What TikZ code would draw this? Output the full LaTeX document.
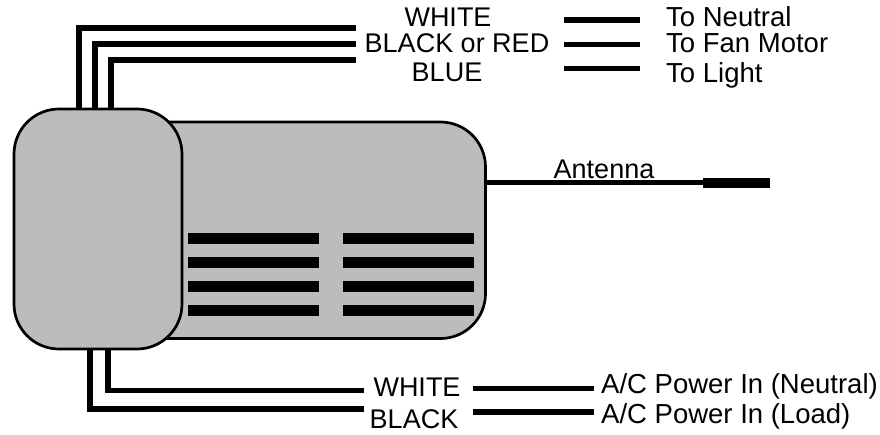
\documentclass[tikz,border=0pt]{standalone}
\usepackage{fontspec}
\setmainfont{Liberation Sans}
\definecolor{housingfill}{HTML}{BCBCBC}
\begin{document}
\begin{tikzpicture}[x=1pt,y=-1pt,
  wire/.style={line width=5.5pt,black},
  bar/.style={line width=10.8pt,black},
  housing/.style={draw=black,line width=2.7pt,fill=housingfill,rounded corners=45pt,inner sep=0pt,outer sep=0pt,anchor=north west},
  lab/.style={font=\fontsize{27}{27}\selectfont,inner sep=0pt,text=black,anchor=base},
  rlab/.style={font=\fontsize{27.5}{27.5}\selectfont,inner sep=0pt,text=black,anchor=base west}]
\useasboundingbox (0,0) rectangle (880,434);
\node[housing,minimum width=385.5pt,minimum height=216.5pt] (body) at (100,122) {};
\node[housing,minimum width=168pt,minimum height=240pt] (unit) at (14,109) {};
% top wires
\coordinate (t1a) at (79,109); \coordinate (t1b) at (79,28); \coordinate (t1c) at (356,28);
\coordinate (t2a) at (95,109); \coordinate (t2b) at (95,44); \coordinate (t2c) at (356,44);
\coordinate (t3a) at (111,109); \coordinate (t3b) at (111,60); \coordinate (t3c) at (356,60);
\draw[wire,line join=miter] (t1a) -- (t1b) -- (t1c);
\draw[wire,line join=miter] (t2a) -- (t2b) -- (t2c);
\draw[wire,line join=miter] (t3a) -- (t3b) -- (t3c);
% top labels
\node[lab] (lw) at (448,26) {WHITE};
\node[lab] (lb) at (457,52) {BLACK or RED};
\node[lab] (lu) at (447,81.5) {BLUE};
\coordinate (r1a) at (564,20); \coordinate (r1b) at (640,20);
\coordinate (r2a) at (564,44.3); \coordinate (r2b) at (640,44.3);
\coordinate (r3a) at (564,68.3); \coordinate (r3b) at (640,68.3);
\draw[wire] (r1a) -- (r1b);
\draw[wire] (r2a) -- (r2b);
\draw[wire] (r3a) -- (r3b);
\node[rlab] (tn) at (666,26) {To Neutral};
\node[rlab] (tf) at (666,52) {To Fan Motor};
\node[rlab] (tl) at (666,82) {To Light};
% vents
\foreach \n/\y in {a/238.7,b/262.7,c/286.7,d/310.7}{
  \coordinate (v1\n) at (188.3,\y); \coordinate (v2\n) at (319,\y);
  \coordinate (v3\n) at (343,\y); \coordinate (v4\n) at (473.7,\y);
  \draw[bar] (v1\n) -- (v2\n);
  \draw[bar] (v3\n) -- (v4\n);
}
% antenna
\coordinate (as) at (body.east |- 0,182.7);
\coordinate (an) at (703,183); \coordinate (ae) at (770,183);
\draw[line width=5pt] (as) -- (an |- as);
\draw[bar] (an) -- (ae);
\node[lab] (ant) at (604,178) {Antenna};
% bottom wires
\coordinate (b1a) at (108,349); \coordinate (b1b) at (108,390.7); \coordinate (b1c) at (364,390.7);
\coordinate (b2a) at (90,349); \coordinate (b2b) at (90,409.2); \coordinate (b2c) at (364,409.2);
\draw[wire,line join=miter] (b1a) -- (b1b) -- (b1c);
\draw[wire,line join=miter] (b2a) -- (b2b) -- (b2c);
\node[lab] (bw) at (417,396) {WHITE};
\node[lab] (bb) at (414,428) {BLACK};
\coordinate (s1a) at (473,388.3); \coordinate (s1b) at (594,388.3);
\coordinate (s2a) at (473,412); \coordinate (s2b) at (594,412);
\draw[wire] (s1a) -- (s1b);
\draw[wire] (s2a) -- (s2b);
\node[rlab] (pn) at (601,393) {A/C Power In (Neutral)};
\node[rlab] (pl) at (601,423) {A/C Power In (Load)};
\end{tikzpicture}
\end{document}
